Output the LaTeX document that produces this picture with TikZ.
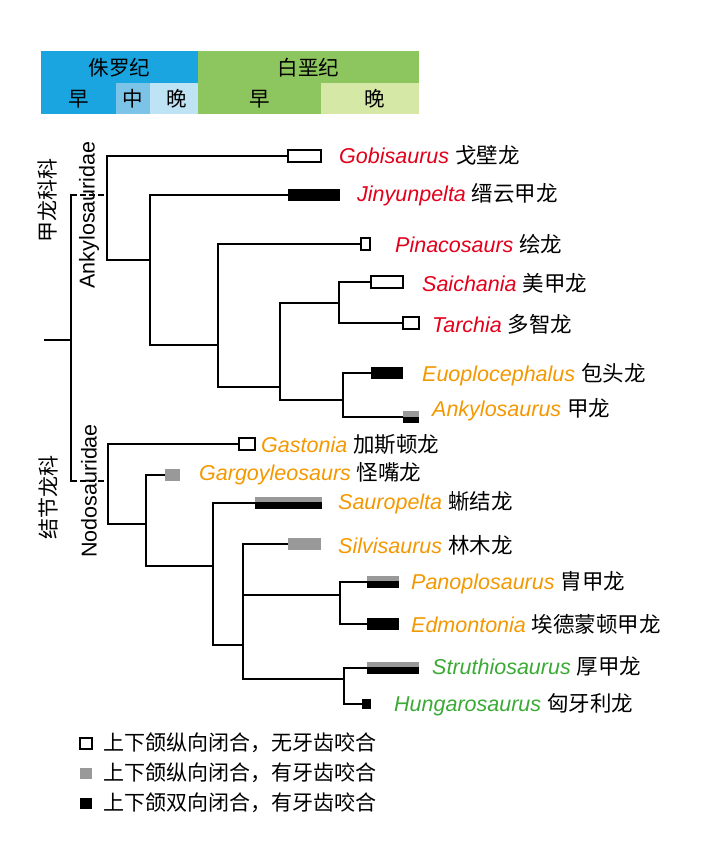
\documentclass[tikz,border=0pt]{standalone}
\usepackage{fontspec}
\setmainfont{Liberation Sans}
\newfontfamily\cjk{Noto Sans CJK SC}
\definecolor{jur}{HTML}{1AA5E0}
\definecolor{jurm}{HTML}{7CC3E8}
\definecolor{jurl}{HTML}{BEE3F5}
\definecolor{cre}{HTML}{8DC65F}
\definecolor{crel}{HTML}{D5E8A6}
\definecolor{tred}{HTML}{E2001A}
\definecolor{torg}{HTML}{F39800}
\definecolor{tgrn}{HTML}{3AAA35}
\definecolor{bgray}{HTML}{999999}
\begin{document}
\begin{tikzpicture}[x=1pt,y=-1pt,
  br/.style={line width=1.6pt,line cap=rect},
  lab/.style={anchor=west,inner sep=0pt,font=\fontsize{21.5}{21.5}\selectfont},
  hd/.style={font=\cjk\fontsize{20.5}{20.5}\selectfont},
  wbox/.style={draw=black,line width=1.3pt,fill=white},
  vlab/.style={rotate=90,inner sep=0pt,font=\fontsize{21.5}{21.5}\selectfont}]
\useasboundingbox (0,0) rectangle (720,849);
% header
\fill[jur] (41,51) rectangle (198,83);
\fill[cre] (198,51) rectangle (419,83);
\fill[jur] (41,83) rectangle (116,114);
\fill[jurm] (116,83) rectangle (150,114);
\fill[jurl] (150,83) rectangle (198,114);
\fill[cre] (198,83) rectangle (321,114);
\fill[crel] (321,83) rectangle (419,114);
\node[hd] (hj) at (119.5,68) {侏罗纪};
\node[hd] (hc) at (308.5,68) {白垩纪};
\node[hd] (h1) at (78.5,99) {早};
\node[hd] (h2) at (133,99) {中};
\node[hd] (h3) at (177,99) {晚};
\node[hd] (h4) at (259.5,99) {早};
\node[hd] (h5) at (375,99) {晚};
% tree ankylosauridae
\draw[br] (45,340) -- (71,340);
\draw[br] (71,195) -- (71,481);
\draw[line width=1.4pt,dash pattern=on 6pt off 3pt] (71,195) -- (107,195);
\draw[line width=1.4pt,dash pattern=on 6pt off 3pt] (71,481) -- (108,481);
\draw[br] (288,156) -| (107,260) -- (150,260);
\draw[br] (288,195) -| (150,345) -- (218,345);
\draw[br] (361,244) -| (218,387) -- (280,387);
\draw[br] (337,303) -| (280,400) -- (343,400);
\draw[br] (371,282) -| (339,323) -- (403,323);
\draw[br] (371,373) -| (343,417) -- (403,417);
% tree nodosauridae
\draw[br] (239,444) -| (108,524) -- (146,524);
\draw[br] (165,475) -| (146,566) -- (213,566);
\draw[br] (255,503) -| (213,645) -- (243,645);
\draw[br] (288,544) -| (243,679) -- (344,679);
\draw[br] (243,595) -- (340,595);
\draw[br] (367,582) -| (340,624) -- (367,624);
\draw[br] (367,668) -| (344,704) -- (362,704);
% bars
\draw[wbox] (288,150) rectangle (321,162);
\fill[black] (288,189) rectangle (340,201);
\draw[wbox] (361,238) rectangle (370,250);
\draw[wbox] (371,276) rectangle (403,288);
\draw[wbox] (403,317) rectangle (419,329);
\fill[black] (371,367) rectangle (403,379);
\fill[bgray] (403,411) rectangle (419,417); \fill[black] (403,417) rectangle (419,423);
\draw[wbox] (239,438) rectangle (255,450);
\fill[bgray] (165,469) rectangle (180,481);
\fill[bgray] (255,497) rectangle (322,502); \fill[black] (255,502) rectangle (322,509);
\fill[bgray] (288,538) rectangle (321,550);
\fill[bgray] (367,576) rectangle (399,581); \fill[black] (367,581) rectangle (399,588);
\fill[black] (367,618) rectangle (399,630);
\fill[bgray] (367,662) rectangle (419,667); \fill[black] (367,667) rectangle (419,674);
\fill[black] (362,699) rectangle (371,709);
% labels
\node[lab] (t1) at (339,155) {\textcolor{tred}{\textit{Gobisaurus}} {\cjk 戈壁龙}};
\node[lab] (t2) at (357,195) {\textcolor{tred}{\textit{Jinyunpelta}} {\cjk 缙云甲龙}};
\node[lab] (t3) at (395,244) {\textcolor{tred}{\textit{Pinacosaurs}} {\cjk 绘龙}};
\node[lab] (t4) at (422,283) {\textcolor{tred}{\textit{Saichania}} {\cjk 美甲龙}};
\node[lab] (t5) at (432,324) {\textcolor{tred}{\textit{Tarchia}} {\cjk 多智龙}};
\node[lab] (t6) at (422,375) {\textcolor{torg}{\textit{Euoplocephalus}} {\cjk 包头龙}};
\node[lab] (t7) at (432,410) {\textcolor{torg}{\textit{Ankylosaurus}} {\cjk 甲龙}};
\node[lab] (t8) at (261,444) {\textcolor{torg}{\textit{Gastonia}} {\cjk 加斯顿龙}};
\node[lab] (t9) at (199,474) {\textcolor{torg}{\textit{Gargoyleosaurs}} {\cjk 怪嘴龙}};
\node[lab] (t10) at (338,503) {\textcolor{torg}{\textit{Sauropelta}} {\cjk 蜥结龙}};
\node[lab] (t11) at (338,545) {\textcolor{torg}{\textit{Silvisaurus}} {\cjk 林木龙}};
\node[lab] (t12) at (411,583) {\textcolor{torg}{\textit{Panoplosaurus}} {\cjk 胄甲龙}};
\node[lab] (t13) at (411,624) {\textcolor{torg}{\textit{Edmontonia}} {\cjk 埃德蒙顿甲龙}};
\node[lab] (t14) at (432,666) {\textcolor{tgrn}{\textit{Struthiosaurus}} {\cjk 厚甲龙}};
\node[lab] (t15) at (394,705) {\textcolor{tgrn}{\textit{Hungarosaurus}} {\cjk 匈牙利龙}};
% vertical labels
\node[vlab,font=\cjk\fontsize{21}{21}\selectfont] (v1) at (48,200) {甲龙科科};
\node[vlab] (v2) at (89,215) {Ankylosauridae};
\node[vlab,font=\cjk\fontsize{21}{21}\selectfont] (v3) at (48,497) {结节龙科};
\node[vlab] (v4) at (89,491) {Nodosauridae};
% legend
\draw[wbox] (80,738) rectangle (92,749);
\fill[bgray] (80,768) rectangle (92,779);
\fill[black] (80,798) rectangle (92,809);
\node[lab,font=\cjk\fontsize{21}{21}\selectfont] (l1) at (103,743) {上下颌纵向闭合，无牙齿咬合};
\node[lab,font=\cjk\fontsize{21}{21}\selectfont] (l2) at (103,773) {上下颌纵向闭合，有牙齿咬合};
\node[lab,font=\cjk\fontsize{21}{21}\selectfont] (l3) at (103,803) {上下颌双向闭合，有牙齿咬合};
\end{tikzpicture}
\end{document}
